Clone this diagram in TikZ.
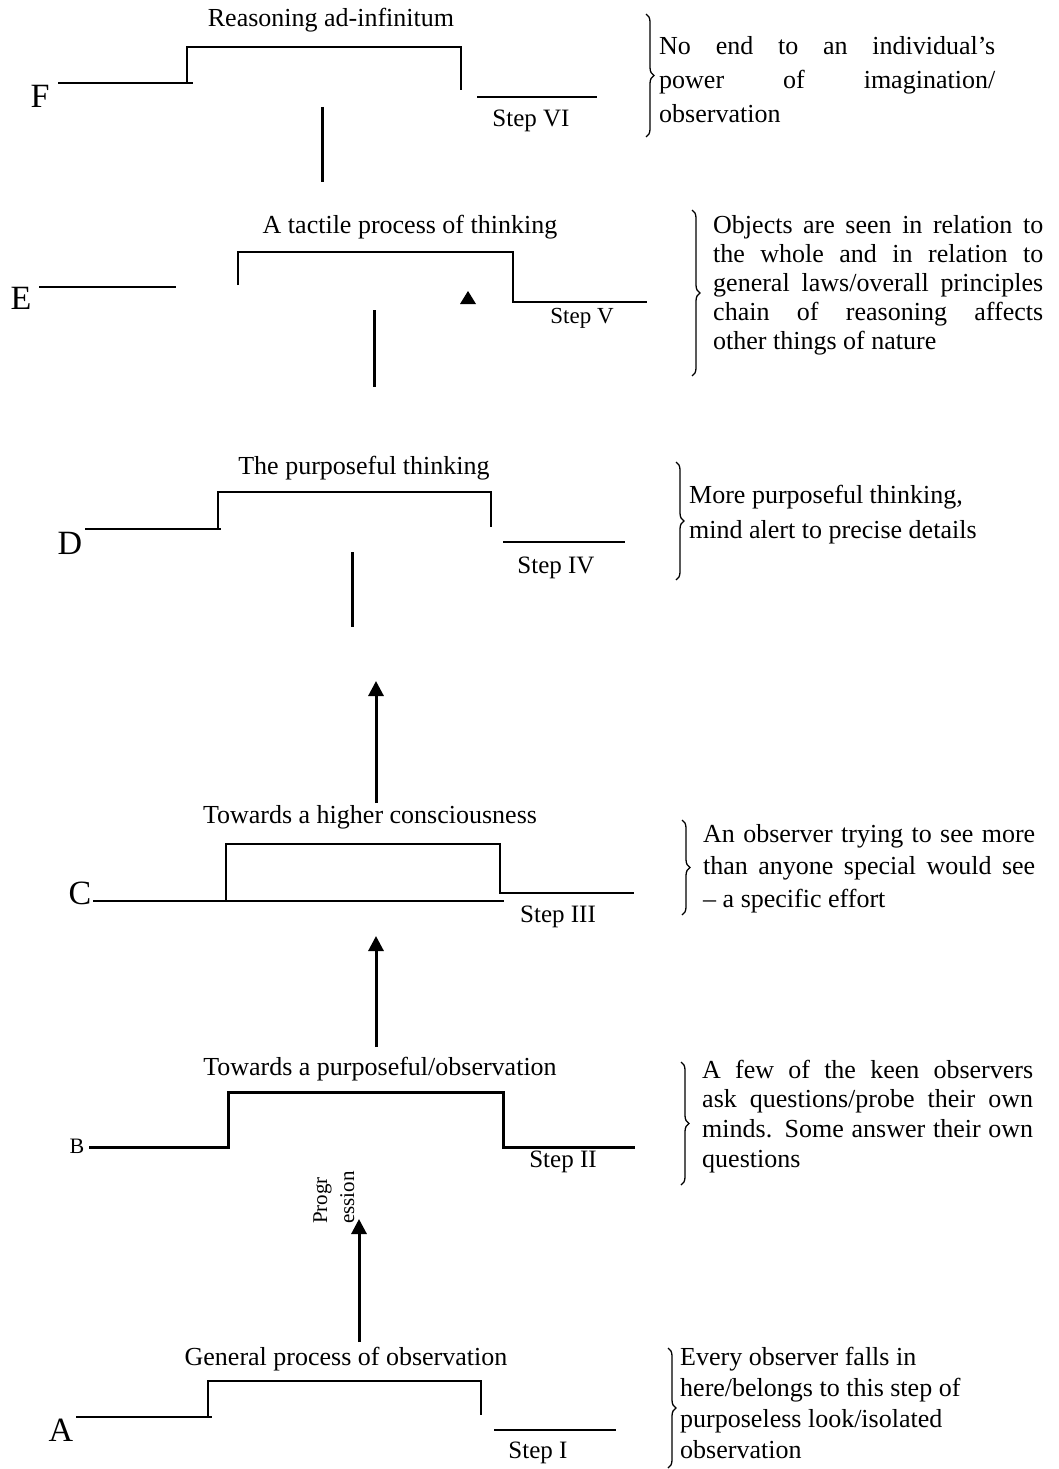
\documentclass[tikz,border=0pt]{standalone}
\usepackage{fontspec}
\setmainfont{Liberation Serif}
\usetikzlibrary{arrows.meta,decorations.pathreplacing}
\newcommand\jline[2]{\hbox{\makebox[#1][s]{#2}}}
\newcommand\rline[1]{\hbox{#1}}
\begin{document}
\begin{tikzpicture}[x=1pt,y=-1pt,
  outline/.style={line width=1.5pt},
  boldline/.style={line width=3pt},
  upstem/.style={line width=3pt},
  uparrow/.style={line width=3pt,-{Triangle[width=15pt,length=15pt]}},
  bracket/.style={line width=1.3pt,decorate,decoration={brace,amplitude=8pt,aspect=0.5}},
  title/.style={anchor=base,inner sep=0,font=\fontsize{26}{30}\selectfont},
  steplabel/.style={anchor=base,inner sep=0,font=\fontsize{25}{30}\selectfont},
  letter/.style={anchor=base,inner sep=0,font=\fontsize{34}{40}\selectfont},
  note/.style={anchor=base west,inner sep=0,font=\fontsize{26}{30}\selectfont}]
\fill[white] (0,0) rectangle (1059,1469);
\useasboundingbox (0,0) rectangle (1059,1469);

% ---------- F ----------
\node[title] (tF) at (331,27) {Reasoning ad-infinitum};
\node[letter] (lF) at (40,108) {F};
\node[steplabel] (sF) at (531,127) {Step VI};
\draw[outline] (58,83) -- (193,83);
\draw[outline] (187,83) -- (187,47) -- (461,47) -- (461,90);
\draw[outline] (477,97) -- (597,97);
\coordinate (vF1) at (322,107); \coordinate (vF2) at (322,182);
\draw[upstem] (vF1) -- (vF2);
\coordinate (bF1) at (646,14); \coordinate (bF2) at (646,137);
\draw[bracket] (bF1) -- (bF2);
\node[note] (nF) at (659,55) {\vtop{\baselineskip=34pt
  \jline{336pt}{No end to an individual’s}
  \jline{336pt}{power of imagination/}
  \rline{observation}}};

% ---------- E ----------
\node[title] (tE) at (410,233) {A tactile process of thinking};
\node[letter] (lE) at (21,309) {E};
\node[steplabel,font=\fontsize{23}{28}\selectfont] (sE) at (582,323) {Step V};
\draw[outline] (39,287) -- (176,287);
\draw[outline] (238,285) -- (238,252) -- (513,252) -- (513,302) -- (647,302);
\fill (460,304) -- (476,304) -- (468,291) -- cycle;
\coordinate (vE1) at (374,310); \coordinate (vE2) at (374,387);
\draw[upstem] (vE1) -- (vE2);
\coordinate (bE1) at (692,210); \coordinate (bE2) at (692,376);
\draw[bracket] (bE1) -- (bE2);
\node[note] (nE) at (713,233) {\vtop{\baselineskip=29pt
  \jline{330pt}{Objects are seen in relation to}
  \jline{330pt}{the whole and in relation to}
  \jline{330pt}{general laws/overall principles}
  \jline{330pt}{chain of reasoning affects}
  \rline{other things of nature}}};

% ---------- D ----------
\node[title] (tD) at (364,474) {The purposeful thinking};
\node[letter] (lD) at (70,554) {D};
\node[steplabel] (sD) at (556,573) {Step IV};
\draw[outline] (85,529) -- (221,529);
\draw[outline] (218,529) -- (218,492) -- (491,492) -- (491,527);
\draw[outline] (503,542) -- (625,542);
\coordinate (vD1) at (352,552); \coordinate (vD2) at (352,627);
\draw[upstem] (vD1) -- (vD2);
\coordinate (bD1) at (676,462); \coordinate (bD2) at (676,580);
\draw[bracket] (bD1) -- (bD2);
\node[note] (nD) at (689,503) {\vtop{\baselineskip=35pt
  \rline{More purposeful thinking,}
  \rline{mind alert to precise details}}};

% arrow C -> D
\coordinate (aCD1) at (376,803); \coordinate (aCD2) at (376,681);
\draw[uparrow] (aCD1) -- (aCD2);

% ---------- C ----------
\node[title] (tC) at (370,823) {Towards a higher consciousness};
\node[letter] (lC) at (80,904) {C};
\node[steplabel] (sC) at (558,922) {Step III};
\draw[line width=2.2pt] (93,901) -- (504,901);
\draw[outline] (226,901) -- (226,844) -- (500,844) -- (500,893) -- (634,893);
\coordinate (bC1) at (682,820); \coordinate (bC2) at (682,915);
\draw[bracket] (bC1) -- (bC2);
\node[note] (nC) at (703,842) {\vtop{\baselineskip=32.5pt
  \jline{332pt}{An observer trying to see more}
  \jline{332pt}{than anyone special would see}
  \rline{– a specific effort}}};

% arrow B -> C
\coordinate (aBC1) at (376,1047); \coordinate (aBC2) at (376,936);
\draw[uparrow] (aBC1) -- (aBC2);

% ---------- B ----------
\node[title] (tB) at (380,1075) {Towards a purposeful/observation};
\node[letter,font=\fontsize{22}{26}\selectfont] (lB) at (77,1153) {B};
\node[steplabel] (sB) at (563,1167) {Step II};
\draw[boldline] (89,1147) -- (228,1147) -- (228,1092) -- (503,1092) -- (503,1147) -- (635,1147);
\coordinate (bB1) at (681,1062); \coordinate (bB2) at (681,1185);
\draw[bracket] (bB1) -- (bB2);
\node[note] (nB) at (702,1078) {\vtop{\baselineskip=29.7pt
  \jline{331pt}{A few of the keen observers}
  \jline{331pt}{ask questions/probe their own}
  \jline{331pt}{minds. Some answer their own}
  \rline{questions}}};

% Progression label and arrow A -> B
\node[anchor=base west,inner sep=0,rotate=90,font=\fontsize{21}{24}\selectfont] (pg1) at (327,1224) {Progr};
\node[anchor=base west,inner sep=0,rotate=90,font=\fontsize{21}{24}\selectfont] (pg2) at (354,1224) {ession};
\coordinate (aAB1) at (359,1342); \coordinate (aAB2) at (359,1219);
\draw[uparrow] (aAB1) -- (aAB2);

% ---------- A ----------
\node[title] (tA) at (346,1365) {General process of observation};
\node[letter] (lA) at (61,1441) {A};
\node[steplabel] (sA) at (538,1458) {Step I};
\draw[outline] (76,1417) -- (212,1417);
\draw[outline] (208,1417) -- (208,1381) -- (481,1381) -- (481,1415);
\draw[outline] (494,1430) -- (616,1430);
\coordinate (bA1) at (668,1348); \coordinate (bA2) at (668,1468);
\draw[bracket] (bA1) -- (bA2);
\node[note] (nA) at (680,1365) {\vtop{\baselineskip=31pt
  \rline{Every observer falls in}
  \rline{here/belongs to this step of}
  \rline{purposeless look/isolated}
  \rline{observation}}};
\end{tikzpicture}
\end{document}
